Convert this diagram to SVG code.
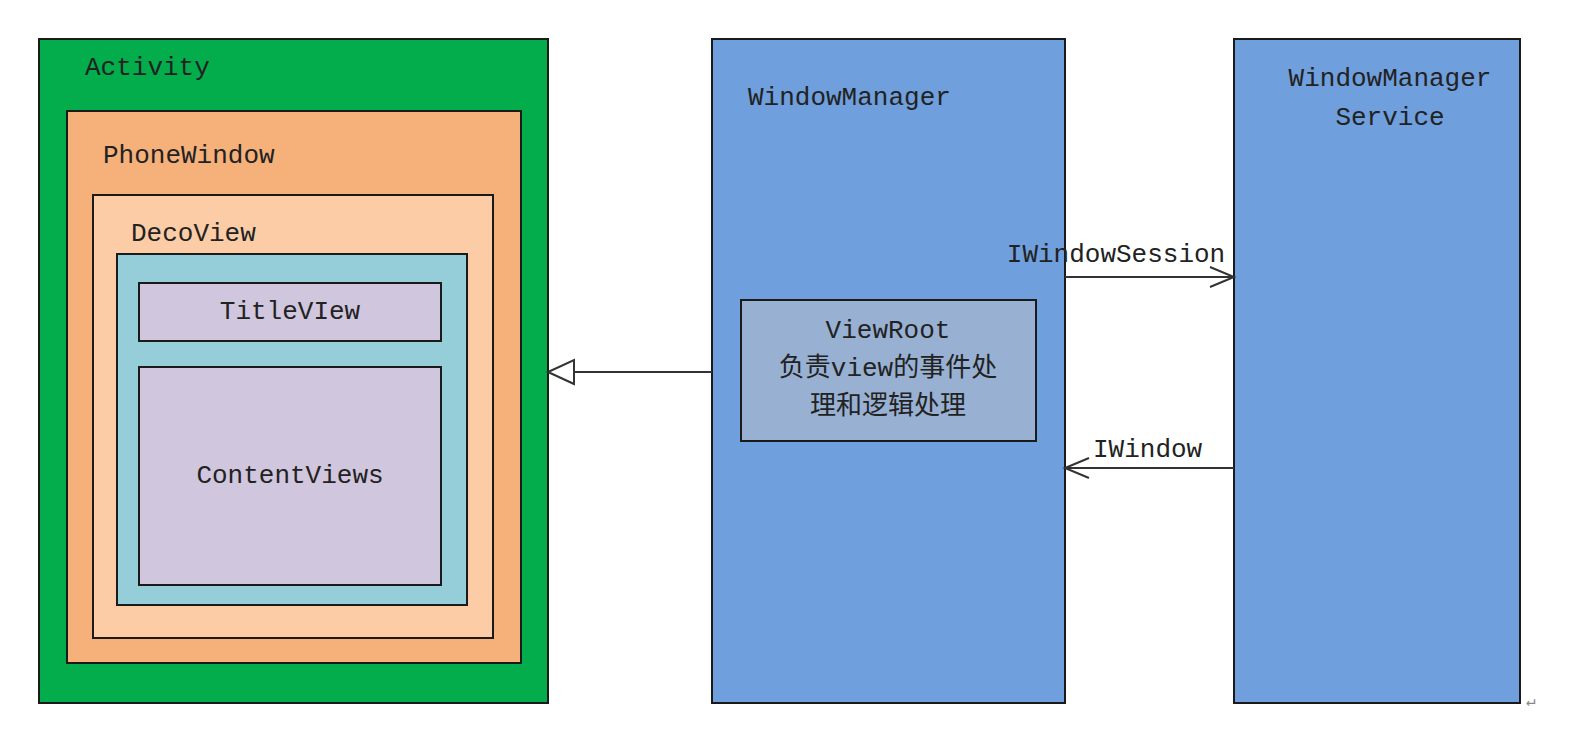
<svg xmlns="http://www.w3.org/2000/svg" width="1593" height="749" viewBox="0 0 1593 749">
<style>
rect{stroke:#1a1a1a;stroke-width:2}
text{font-family:"Liberation Mono","Noto Sans CJK SC",monospace;font-size:26px;fill:#222}
.c{stroke:#333;stroke-width:2;fill:none}
</style>
<defs>
<marker id="open" markerWidth="30" markerHeight="24" refX="26" refY="12" orient="auto" markerUnits="userSpaceOnUse"><path d="M2,2 L26,12 L2,22" fill="none" stroke="#333" stroke-width="2"/></marker>
<marker id="tri" markerWidth="30" markerHeight="28" refX="28" refY="14" orient="auto" markerUnits="userSpaceOnUse"><path d="M2,2 L28,14 L2,26 Z" fill="#fff" stroke="#333" stroke-width="2"/></marker>
</defs>
<rect width="1593" height="749" fill="#fff" style="stroke:none"/>
<g id="activity"><rect x="39" y="39" width="509" height="664" fill="#03ad4b"/><text x="85" y="75">Activity</text></g>
<g id="phonewindow"><rect x="67" y="111" width="454" height="552" fill="#f6b07a"/><text x="103" y="163">PhoneWindow</text></g>
<g id="decoview"><rect x="93" y="195" width="400" height="443" fill="#fbcca6"/><text x="131" y="241">DecoView</text></g>
<g id="content"><rect x="117" y="254" width="350" height="351" fill="#95cdd8"/></g>
<g id="titleview"><rect x="139" y="283" width="302" height="58" fill="#d0c6de"/><text x="290" y="319" text-anchor="middle">TitleVIew</text></g>
<g id="contentviews"><rect x="139" y="367" width="302" height="218" fill="#d0c6de"/><text x="290" y="483" text-anchor="middle">ContentViews</text></g>
<g id="windowmanager"><rect x="712" y="39" width="353" height="664" fill="#6f9fdc"/><text x="748" y="105">WindowManager</text></g>
<g id="viewroot"><rect x="741" y="300" width="295" height="141" fill="#98b0d2"/>
<text x="888" y="338" text-anchor="middle">ViewRoot</text>
<text x="888" y="376" text-anchor="middle">负责view的事件处</text>
<text x="888" y="414" text-anchor="middle">理和逻辑处理</text></g>
<g id="wms"><rect x="1234" y="39" width="286" height="664" fill="#6f9fdc"/>
<text x="1390" y="86" text-anchor="middle">WindowManager</text>
<text x="1390" y="125" text-anchor="middle">Service</text></g>
<g id="connectors">
<line class="c" x1="712" y1="372" x2="548" y2="372" marker-end="url(#tri)"/>
<line class="c" x1="1065" y1="277" x2="1234" y2="277" marker-end="url(#open)"/>
<line class="c" x1="1234" y1="468" x2="1065" y2="468" marker-end="url(#open)"/>
<text x="1116" y="262" text-anchor="middle">IWindowSession</text>
<text x="1093" y="457">IWindow</text>
</g>
<text x="1526" y="706" style="font-size:16px;fill:#888">↵</text>
</svg>
